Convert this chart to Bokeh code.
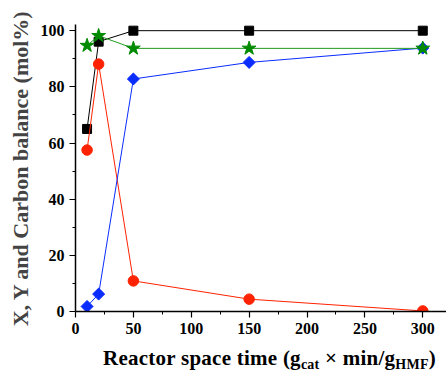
from bokeh.plotting import figure
from bokeh.models import Range1d, FixedTicker, ColumnDataSource, Div
from bokeh.layouts import column
from bokeh.embed import file_html
from bokeh.resources import INLINE
import math

# ---- data ----
space_time = [10, 20, 50, 150, 300]
conversion = [65.0, 96.1, 100.0, 100.0, 100.0]          # black squares
yield_red = [57.5, 88.1, 10.9, 4.4, 0.2]                # red circles
yield_blue = [1.8, 6.2, 82.8, 88.7, 93.8]               # blue diamonds
carbon_balance = [94.7, 98.2, 93.7, 93.7, 93.7]         # green stars

x_major = [0, 50, 100, 150, 200, 250, 300]
x_minor = [25, 75, 125, 175, 225, 275]
y_major = [0, 20, 40, 60, 80, 100]
y_minor = [10, 30, 50, 70, 90]

FONT = "Liberation Serif"

W, H = 446, 344
p = figure(width=W, height=H, output_backend="svg", toolbar_location=None,
           x_range=Range1d(0, 320.5), y_range=Range1d(0, 102.2),
           min_border_left=75, min_border_right=0, min_border_top=24,
           min_border_bottom=H - 311)
p.outline_line_color = None
p.grid.visible = False
p.background_fill_color = "white"
p.border_fill_color = "white"

for ax in (p.xaxis[0], p.yaxis[0]):
    ax.axis_line_width = 1.5
    ax.axis_line_color = "black"
    ax.major_tick_line_width = 1.2
    ax.minor_tick_line_width = 1.0
    ax.major_tick_out = 6
    ax.major_tick_in = 0
    ax.minor_tick_out = 3
    ax.minor_tick_in = 0
    ax.major_label_text_font = FONT
    ax.major_label_text_font_style = "bold"
    ax.major_label_text_font_size = "16px"
    ax.major_label_text_color = "black"

p.xaxis[0].ticker = FixedTicker(ticks=x_major, minor_ticks=x_minor)
p.yaxis[0].ticker = FixedTicker(ticks=y_major, minor_ticks=y_minor)
p.xaxis[0].major_label_standoff = 5
p.yaxis[0].major_label_standoff = 5

p.yaxis[0].axis_label = "X, Y and Carbon balance (mol%)"
p.yaxis[0].axis_label_text_font = FONT
p.yaxis[0].axis_label_text_font_style = "bold"
p.yaxis[0].axis_label_text_font_size = "22px"
p.yaxis[0].axis_label_standoff = 5

# series
src = ColumnDataSource(dict(x=space_time, conv=conversion, red=yield_red,
                            blue=yield_blue, cb=carbon_balance))

p.line("x", "conv", source=src, line_color="black", line_width=1)
p.scatter("x", "conv", source=src, marker="square", size=9,
          fill_color="black", line_color="black")

p.line("x", "red", source=src, line_color="#ff2200", line_width=1)
p.scatter("x", "red", source=src, marker="circle", size=10.5,
          fill_color="#ff2200", line_color="#ff2200")

p.line("x", "blue", source=src, line_color="#0a2cff", line_width=1)
p.scatter("x", "blue", source=src, marker="square", size=8.5, angle=math.pi / 4,
          fill_color="#0a2cff", line_color="#0a2cff")

p.line("x", "cb", source=src, line_color="#1f9a1f", line_width=1)
p.scatter("x", "cb", source=src, marker="star", size=14.5,
          fill_color="#008a00", line_color="#008a00")

# x-axis title with subscripts, as HTML text under the figure
sub = '<span style="font-size:14px;vertical-align:-4px;line-height:1">{}</span>'
xlabel_html = ("Reactor space time (g" + sub.format("cat") +
               " \u00d7 min/g" + sub.format("HMF") + ")")
xlabel = Div(text=xlabel_html, width=W, height=372 - H, margin=0,
             styles={"font-family": FONT, "font-weight": "bold",
                     "font-size": "21px", "line-height": "28px",
                     "letter-spacing": "0.25px",
                     "padding-left": "103px", "color": "black",
                     "white-space": "nowrap", "box-sizing": "border-box"})

layout = column(p, xlabel, spacing=0)
open("out.html", "w").write(file_html(layout, INLINE))
